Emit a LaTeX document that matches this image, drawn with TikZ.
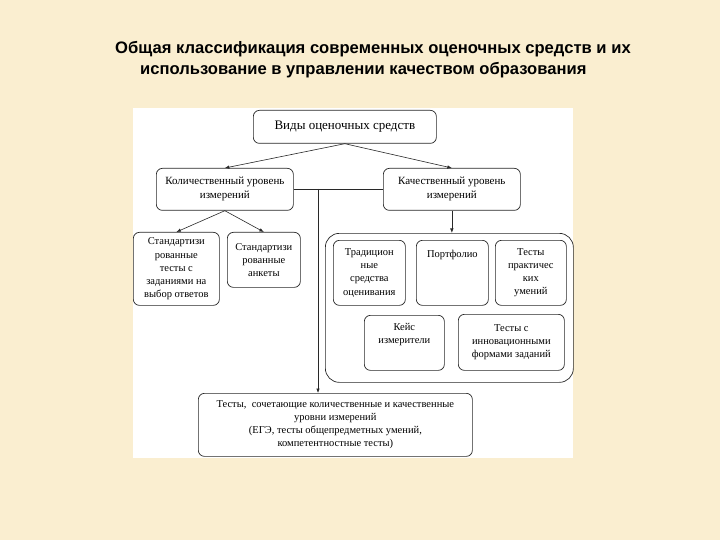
\documentclass[tikz,border=0pt]{standalone}
\usepackage{fontspec}
\setmainfont{Liberation Serif}
\newfontfamily\headfont{Liberation Sans}
\usepackage{xcolor}
\usetikzlibrary{arrows.meta, positioning, calc}

\definecolor{paper}{RGB}{250,238,208}
\definecolor{ink}{RGB}{40,40,40}

\begin{document}
\begin{tikzpicture}[
  x=1pt, y=-1pt,
  every node/.style={font=\fontsize{10.5}{13.2}\selectfont},
  box/.style={draw=ink, rounded corners=6pt, fill=white, align=center,
              anchor=north west, inner sep=2pt, line width=0.7pt},
  groupbox/.style={draw=ink, rounded corners=14pt, anchor=north west,
                   inner sep=0pt, line width=0.7pt},
  arrow/.style={-{Latex[length=4.5pt, width=3.5pt]}, draw=ink, line width=0.6pt},
  link/.style={draw=ink, line width=0.6pt},
  heading/.style={font=\headfont\bfseries\fontsize{16.6}{20}\selectfont,
                  anchor=west, inner sep=0pt}
]
\useasboundingbox (0,0) rectangle (720,540);

%% Background
\fill[paper] (0,0) rectangle (720,540);
\fill[white] (133,108) rectangle (573,458);

%% Title
\node[heading] (title)    at (115,49) {Общая классификация современных оценочных средств и их};
\node[heading] (subtitle) at (140,70) {использование в управлении качеством образования};

%% Nodes
\node[box, minimum width=183, minimum height=33, font=\fontsize{13}{15}\selectfont]
     (types) at (253,110) {Виды оценочных средств};
\node[box, minimum width=137, minimum height=42, font=\fontsize{11}{14}\selectfont]
     (quant) at (156,168) {Количественный уровень\\измерений};
\node[box, minimum width=137, minimum height=42, font=\fontsize{11}{14}\selectfont]
     (qual)  at (383,168) {Качественный уровень\\измерений};
\node[box, minimum width=86, minimum height=73]
     (stdtests)  at (133,232) {Стандартизи\\рованные\\тесты с\\заданиями на\\выбор ответов};
\node[box, minimum width=73, minimum height=55]
     (stdsurvey) at (227,232) {Стандартизи\\рованные\\анкеты};
\node[groupbox, minimum width=248, minimum height=149] (qualgroup) at (325,233) {};
\node[box, minimum width=72, minimum height=65]
     (trad)      at (333,240) {Традицион\\ные\\средства\\оценивания};
\node[box, minimum width=72, minimum height=65, text depth=38]
     (portfolio) at (416,240) {Портфолио};
\node[box, minimum width=71, minimum height=65]
     (practical) at (495,240) {Тесты\\практичес\\ких\\умений};
\node[box, minimum width=80, minimum height=55, text depth=19]
     (cases)     at (364,315) {Кейс\\измерители};
\node[box, minimum width=106, minimum height=56]
     (innov)     at (458,314) {Тесты с\\инновационными\\формами заданий};
\node[box, minimum width=274, minimum height=63]
     (mixed)     at (198,393) {Тесты,\ \ сочетающие количественные и качественные\\уровни измерений\\(ЕГЭ, тесты общепредметных умений,\\компетентностные тесты)};
\coordinate (split) at (318,189);

%% Arrows
\draw[arrow] (types.south) -- (quant.north);
\draw[arrow] (types.south) -- (qual.north);
\draw[arrow] (quant.south) -- (stdtests.north);
\draw[arrow] (quant.south) -- (stdsurvey.north);
\draw[link]  (quant.east)  -- (qual.west);
\draw[arrow] (split) -- (split |- mixed.north);
\draw[arrow] (qual.south)  -- (qual.south |- qualgroup.north);

\end{tikzpicture}
\end{document}
